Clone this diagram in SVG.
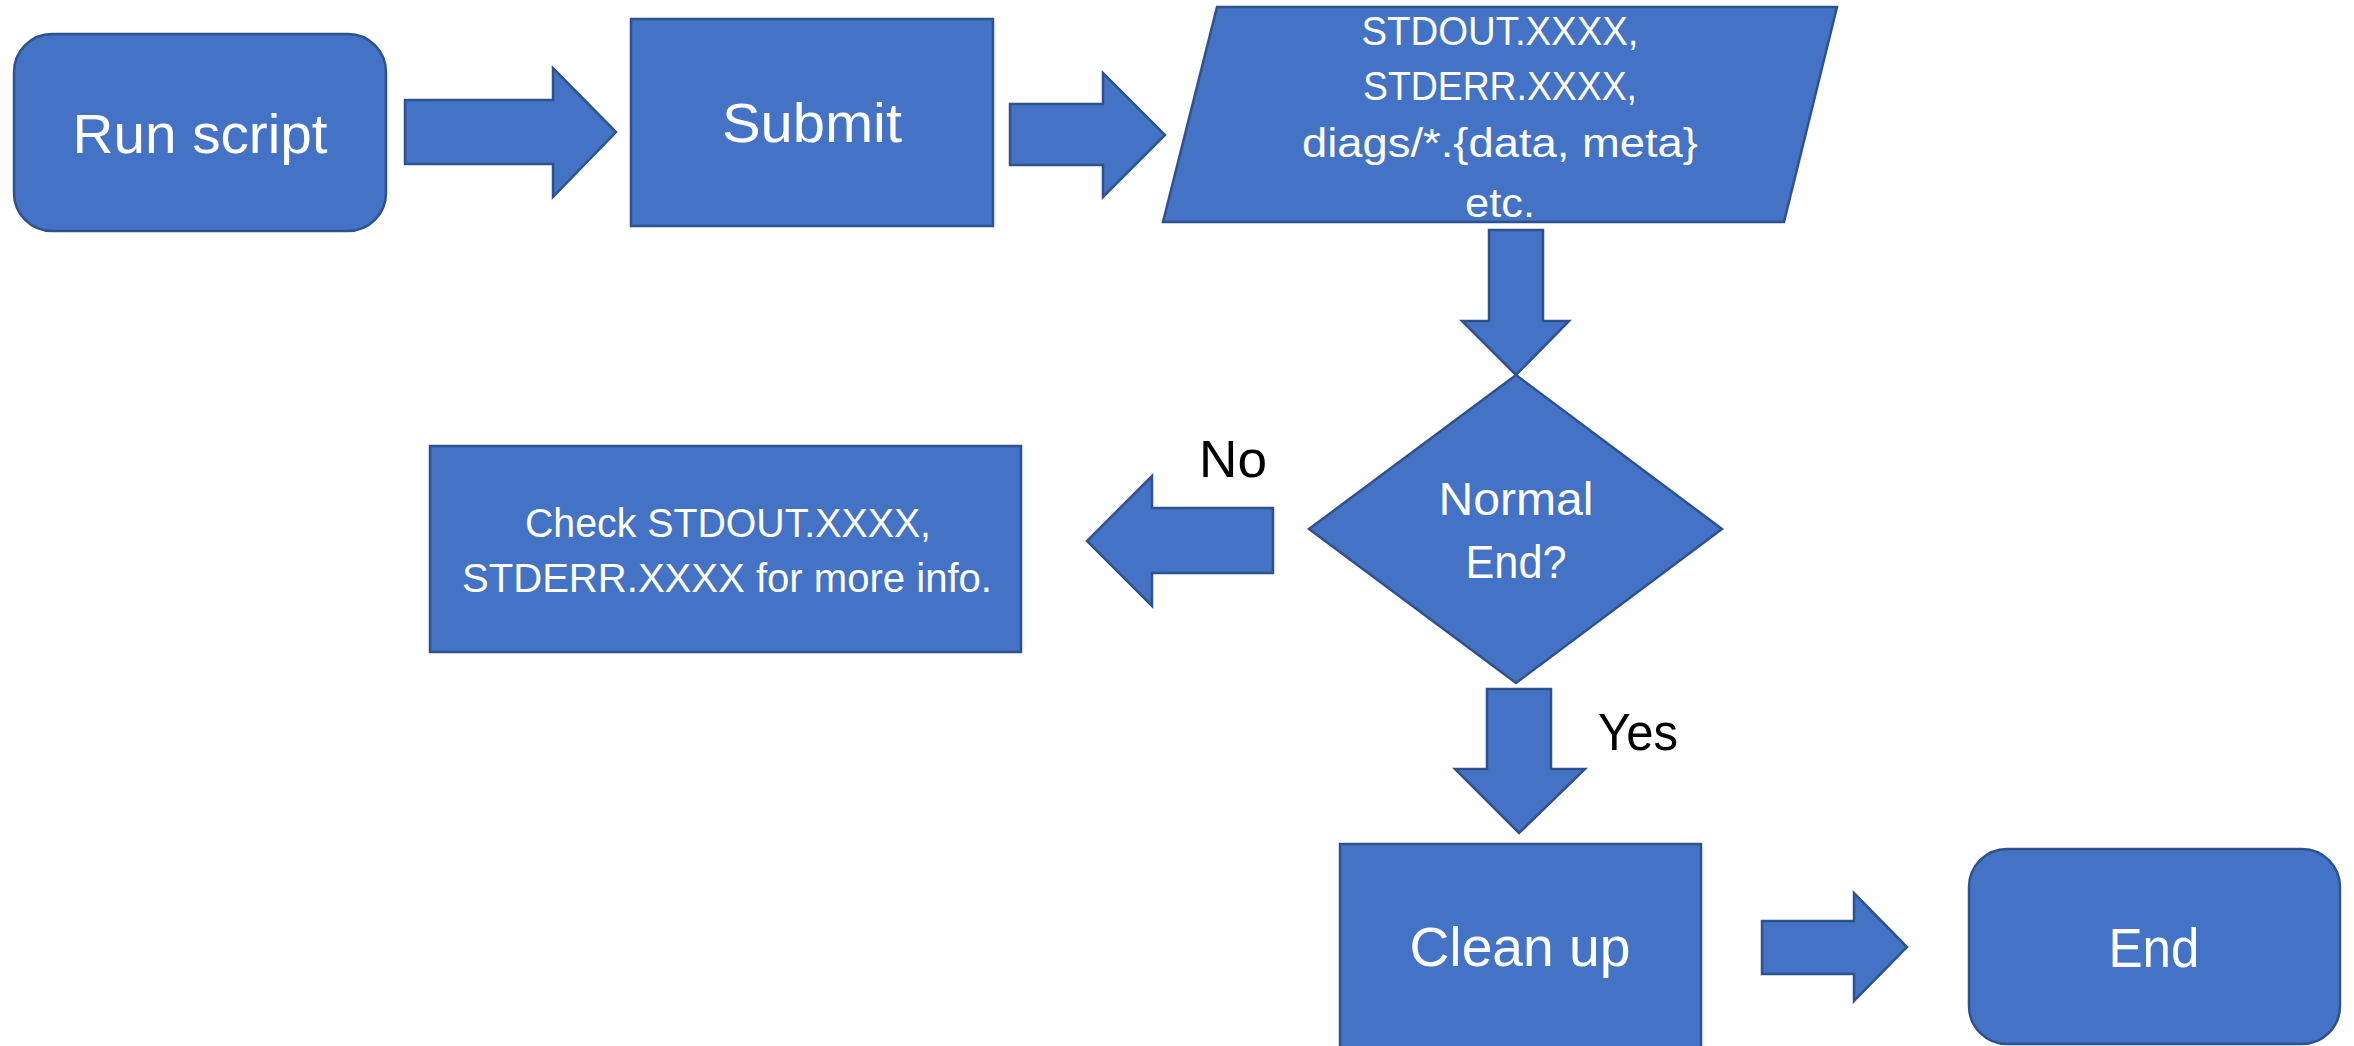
<svg xmlns="http://www.w3.org/2000/svg" width="2354" height="1046" viewBox="0 0 2354 1046">
<style>
.shape{fill:#4472C4;stroke:#2F528F;stroke-width:2.5;stroke-linejoin:miter}
.lbl{fill:#FFFFFF;font-family:"Liberation Sans",Arial,sans-serif;text-anchor:middle}
.big{font-size:56px}
.mid{font-size:46px}
.sm{font-size:41px}
.edge{fill:#000000;font-family:"Liberation Sans",Arial,sans-serif;font-size:52px}
</style>
<rect width="2354" height="1046" fill="#FFFFFF"/>
<g id="connectors">
  <polygon class="shape" points="405,100 553,100 553,68 616,132 553,197 553,164 405,164"/>
  <polygon class="shape" points="1010,104 1103,104 1103,73 1165,135 1103,197 1103,165 1010,165"/>
  <polygon class="shape" points="1489,230 1543,230 1543,321 1569,321 1516,375 1462,321 1489,321"/>
  <polygon class="shape" points="1273,508 1152,508 1152,476 1087,541 1152,606 1152,573 1273,573"/>
  <polygon class="shape" points="1487,689 1551,689 1551,769 1585,769 1519,833 1455,769 1487,769"/>
  <polygon class="shape" points="1762,921 1854,921 1854,893 1907,947 1854,1001 1854,974 1762,974"/>
  <text class="edge" x="1199" y="477" textLength="68" lengthAdjust="spacingAndGlyphs">No</text>
  <text class="edge" x="1598" y="750" textLength="80" lengthAdjust="spacingAndGlyphs">Yes</text>
</g>
<g id="node-run-script">
  <rect class="shape" x="14" y="34" width="372" height="197" rx="38" ry="38"/>
  <text class="lbl big" x="200" y="153" textLength="255" lengthAdjust="spacingAndGlyphs">Run script</text>
</g>
<g id="node-submit">
  <rect class="shape" x="631" y="19" width="362" height="207"/>
  <text class="lbl big" x="812" y="142" textLength="180" lengthAdjust="spacingAndGlyphs">Submit</text>
</g>
<g id="node-output">
  <polygon class="shape" points="1217,7 1837,7 1784,222 1163,222"/>
  <text class="lbl sm" x="1500" y="45" textLength="277" lengthAdjust="spacingAndGlyphs">STDOUT.XXXX,</text>
  <text class="lbl sm" x="1500" y="100" textLength="274" lengthAdjust="spacingAndGlyphs">STDERR.XXXX,</text>
  <text class="lbl sm" x="1500" y="157" textLength="396" lengthAdjust="spacingAndGlyphs">diags/*.{data, meta}</text>
  <text class="lbl sm" x="1500" y="217" textLength="70" lengthAdjust="spacingAndGlyphs">etc.</text>
</g>
<g id="node-decision">
  <polygon class="shape" points="1516,375 1722,529 1516,683 1309,529"/>
  <text class="lbl mid" x="1516" y="515" textLength="155" lengthAdjust="spacingAndGlyphs">Normal</text>
  <text class="lbl mid" x="1516" y="578" textLength="101" lengthAdjust="spacingAndGlyphs">End?</text>
</g>
<g id="node-check">
  <rect class="shape" x="430" y="446" width="591" height="206"/>
  <text class="lbl sm" x="728" y="537" textLength="406" lengthAdjust="spacingAndGlyphs">Check STDOUT.XXXX,</text>
  <text class="lbl sm" x="727" y="592" textLength="530" lengthAdjust="spacingAndGlyphs">STDERR.XXXX for more info.</text>
</g>
<g id="node-cleanup">
  <rect class="shape" x="1340" y="844" width="361" height="210"/>
  <text class="lbl big" x="1520" y="966" textLength="221" lengthAdjust="spacingAndGlyphs">Clean up</text>
</g>
<g id="node-end">
  <rect class="shape" x="1969" y="849" width="371" height="195" rx="38" ry="38"/>
  <text class="lbl big" x="2154" y="967" textLength="91" lengthAdjust="spacingAndGlyphs">End</text>
</g>
</svg>
